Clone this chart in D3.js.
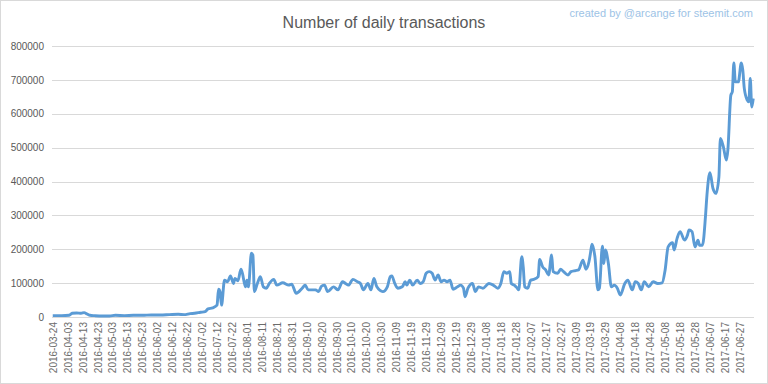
<!DOCTYPE html>
<html>
<head>
<meta charset="utf-8">
<script src="https://cdnjs.cloudflare.com/ajax/libs/d3/7.8.5/d3.min.js"></script>
<style>
  body { margin: 0; background: #fff; }
  svg { display: block; font-family: "Liberation Sans", "DejaVu Sans", sans-serif; }
</style>
</head>
<body>
<div id="chart"></div>
<script>
// days since 2016-03-24 and daily transaction counts
var startDate = "2016-03-24";
var dayOffsets = [0,6,11,13,16,19,21,23,25,28,33,38,42,48,54,60,66,72,78,84,88,92,95,99,102,104,107,110,111,112,113,115,117,119,121,122,124,126,127,129,130,131,133,134,135,137,139,141,143,145,148,150,154,158,160,163,167,169,171,176,178,180,182,184,188,191,194,196,198,201,204,206,208,211,213,215,217,221,224,226,227,229,231,234,236,237,239,241,244,246,248,250,252,254,256,258,260,262,264,266,268,271,273,275,276,278,281,283,285,288,292,295,298,300,302,304,306,307,309,311,312,314,315,316,318,320,322,325,326,328,330,332,334,335,338,340,342,345,347,350,352,355,357,359,360,361,363,365,366,368,369,370,372,374,376,378,380,383,385,388,390,392,394,396,399,402,405,408,410,412,415,416,418,420,423,425,426,428,430,432,433,435,437,438,440,442,444,446,447,449,451,452,454,455,456,457,459,461,462,463,465,466,467,468,469];
var transactions = [4000,4000,5000,11000,12000,11000,13000,9000,5000,4000,3000,3000,5000,4000,5000,5000,6000,6000,7000,8000,7000,10000,11000,14000,16000,24000,27000,35000,82000,75000,35000,109000,104000,121000,99000,114000,107000,141000,129000,89000,109000,89000,188000,183000,75000,99000,119000,89000,85000,99000,111000,94000,101000,94000,97000,70000,85000,94000,80000,80000,75000,91000,94000,75000,89000,80000,104000,99000,94000,111000,104000,99000,80000,99000,80000,114000,89000,75000,89000,119000,121000,99000,85000,89000,104000,94000,109000,94000,109000,99000,104000,129000,134000,129000,109000,124000,104000,109000,104000,109000,82000,89000,94000,85000,60000,85000,99000,75000,89000,85000,99000,94000,85000,99000,134000,129000,134000,99000,94000,85000,80000,178000,148000,89000,85000,109000,111000,119000,170000,148000,139000,124000,183000,134000,129000,141000,134000,124000,134000,137000,139000,168000,141000,163000,188000,215000,178000,80000,85000,209000,158000,198000,158000,89000,94000,85000,65000,99000,109000,80000,104000,99000,80000,104000,89000,104000,99000,101000,139000,207000,219000,198000,232000,252000,227000,242000,257000,252000,207000,227000,212000,212000,296000,360000,426000,380000,365000,414000,527000,502000,463000,493000,655000,665000,750000,694000,694000,750000,729000,675000,640000,635000,704000,620000,645000];
var yTicks = [0,100000,200000,300000,400000,500000,600000,700000,800000];
var tickEveryDays = 10;

var W = 768, H = 384;
var margin = {left: 52, right: 14, top: 46, bottom: 67};
var day = 24 * 3600 * 1000;
var parse = d3.utcParse("%Y-%m-%d");
var t0 = parse(startDate);

var data = dayOffsets.map(function(o, i) {
  return {date: new Date(t0.getTime() + o * day), value: transactions[i]};
});

var lastDay = d3.max(dayOffsets);
var x = d3.scaleUtc()
  .domain([new Date(t0.getTime() - 0.5 * day), new Date(t0.getTime() + (lastDay + 0.5) * day)])
  .range([margin.left, W - margin.right]);
var y = d3.scaleLinear().domain([0, 800000]).range([H - margin.bottom, margin.top]);

var svg = d3.select("#chart").append("svg").attr("width", W).attr("height", H);

svg.append("rect").attr("x", 0.5).attr("y", 0.5).attr("width", W - 1).attr("height", H - 1)
  .attr("fill", "#fff").attr("stroke", "#d9d9d9");

// gridlines
svg.append("g").selectAll("line").data(yTicks).enter().append("line")
  .attr("x1", margin.left).attr("x2", W - margin.right)
  .attr("y1", function(d) { return Math.round(y(d)) + 0.5; })
  .attr("y2", function(d) { return Math.round(y(d)) + 0.5; })
  .attr("stroke", "#d9d9d9").attr("stroke-width", 1);

// y axis labels
var yAxis = d3.axisLeft(y).tickValues(yTicks).tickSize(0).tickPadding(8).tickFormat(d3.format("d"));
svg.append("g").attr("transform", "translate(" + margin.left + ",0)").call(yAxis)
  .call(function(g) { g.select(".domain").remove(); })
  .selectAll("text").attr("fill", "#595959").style("font-size", "10px");

// x axis labels every 10 days
var xTicks = d3.range(0, lastDay - 5, tickEveryDays).map(function(o) { return new Date(t0.getTime() + o * day); });
var xAxis = d3.axisBottom(x).tickValues(xTicks).tickSize(0).tickFormat(d3.utcFormat("%Y-%m-%d"));
svg.append("g").attr("transform", "translate(0," + (H - margin.bottom) + ")").call(xAxis)
  .call(function(g) { g.select(".domain").remove(); })
  .selectAll("text")
  .attr("fill", "#6b6b6b").style("font-size", "10px")
  .attr("text-anchor", "end")
  .attr("dy", "0.35em")
  .attr("transform", "translate(0,5) rotate(-90)")
  .attr("x", 0).attr("y", 0);

// line
var line = d3.line()
  .x(function(d) { return x(d.date); })
  .y(function(d) { return y(d.value); })
  .curve(d3.curveMonotoneX);

svg.append("path").datum(data)
  .attr("d", line)
  .attr("fill", "none")
  .attr("stroke", "#5b9bd5")
  .attr("stroke-width", 2.9)
  .attr("stroke-linejoin", "round");

// title + credit
svg.append("text").attr("x", 384).attr("y", 28).attr("text-anchor", "middle")
  .attr("fill", "#595959").style("font-size", "16px").text("Number of daily transactions");
svg.append("text").attr("x", 753).attr("y", 17).attr("text-anchor", "end")
  .attr("fill", "#9dc3e6").style("font-size", "11px").text("created by @arcange for steemit.com");
</script>
</body>
</html>
